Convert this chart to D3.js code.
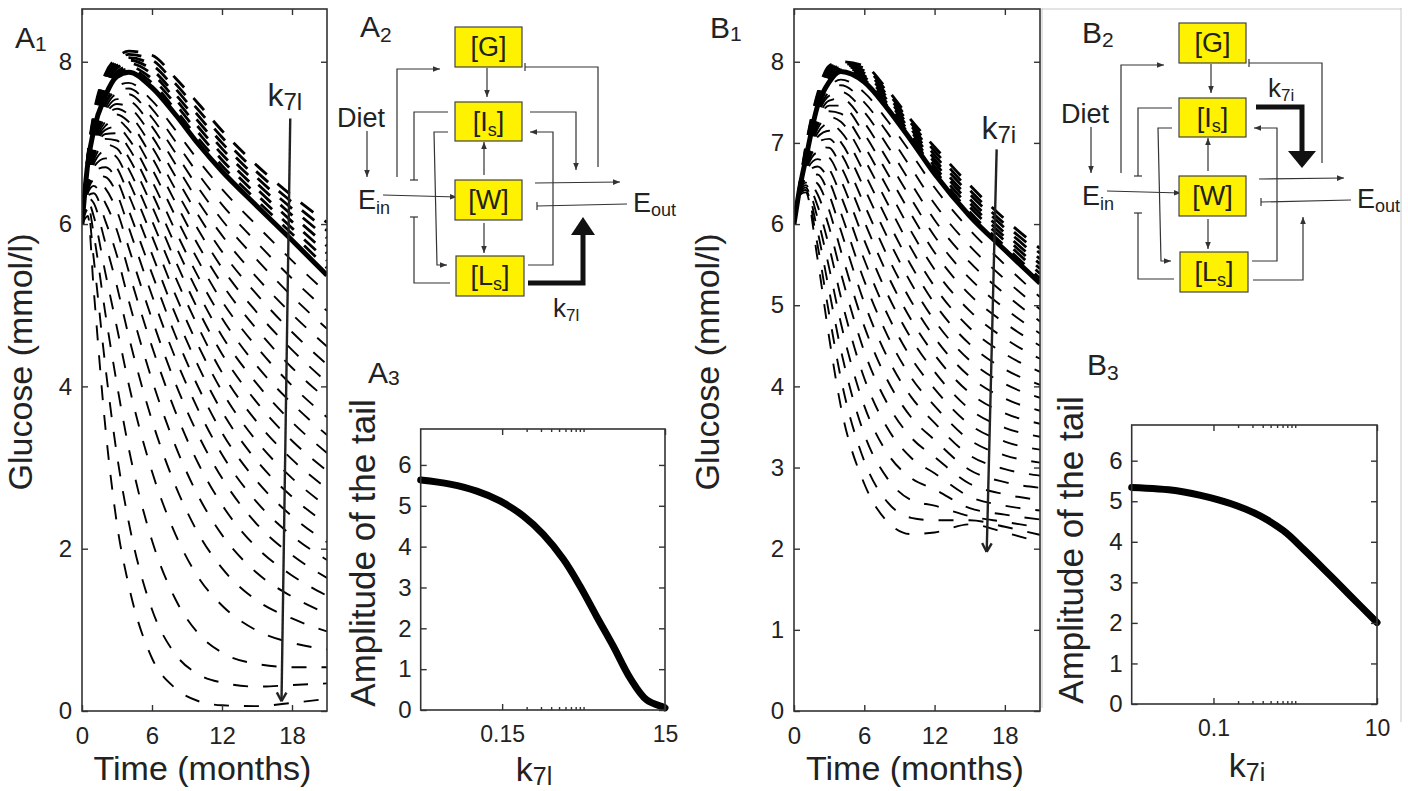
<!DOCTYPE html>
<html>
<head>
<meta charset="utf-8">
<script src="https://cdn.jsdelivr.net/npm/d3@7"></script>
<style>
  body { margin: 0; background: #fff; }
  text { font-family: "Liberation Sans", Arial, Helvetica, sans-serif; fill: #222; }
</style>
</head>
<body>
<div id="fig"></div>
<script>
// ---- data ----
const tGrid = [0, 0.5, 1, 2, 3, 4, 6, 8, 10, 12, 15, 18, 21];
const monthTicks = [0, 6, 12, 18];
const a1GluTicks = [0, 2, 4, 6, 8];
const b1GluTicks = [0, 1, 2, 3, 4, 5, 6, 7, 8];
const ampTicks = [0, 1, 2, 3, 4, 5, 6];

// A1: reference trajectory (thick) and the dashed family for varying k7l
const a1Thick = [6.0, 6.75, 7.15, 7.58, 7.82, 7.87, 7.68, 7.35, 6.98, 6.65, 6.22, 5.8, 5.37];
const a1Upper = [
  [6.0, 6.76, 7.18, 7.62, 7.85, 7.91, 7.74, 7.41, 7.05, 6.72, 6.29, 5.88, 5.46],
  [6.0, 6.78, 7.21, 7.66, 7.88, 7.94, 7.79, 7.48, 7.12, 6.79, 6.36, 5.95, 5.55],
  [6.0, 6.79, 7.23, 7.69, 7.92, 7.98, 7.85, 7.54, 7.19, 6.86, 6.43, 6.03, 5.64],
  [6.0, 6.81, 7.26, 7.73, 7.95, 8.02, 7.9, 7.6, 7.26, 6.93, 6.5, 6.11, 5.73],
  [6.0, 6.82, 7.29, 7.77, 7.98, 8.05, 7.96, 7.67, 7.33, 7.0, 6.57, 6.19, 5.83],
  [6.0, 6.83, 7.32, 7.81, 8.01, 8.09, 8.02, 7.73, 7.4, 7.07, 6.64, 6.27, 5.92],
  [6.0, 6.85, 7.35, 7.85, 8.05, 8.13, 8.08, 7.8, 7.48, 7.15, 6.72, 6.35, 6.02]
];
const a1Lower = [
  [6.0, 6.72, 7.1, 7.5, 7.7, 7.74, 7.52, 7.16, 6.78, 6.43, 5.98, 5.55, 5.15],
  [6.0, 6.7, 7.08, 7.47, 7.65, 7.67, 7.42, 7.02, 6.61, 6.24, 5.77, 5.33, 4.93],
  [6.0, 6.68, 7.05, 7.43, 7.6, 7.6, 7.31, 6.88, 6.44, 6.05, 5.56, 5.11, 4.71],
  [6.0, 6.66, 7.02, 7.39, 7.54, 7.52, 7.2, 6.74, 6.27, 5.86, 5.34, 4.89, 4.49],
  [6.0, 6.64, 7.0, 7.35, 7.48, 7.44, 7.08, 6.59, 6.1, 5.66, 5.13, 4.67, 4.27],
  [6.0, 6.62, 6.97, 7.31, 7.42, 7.35, 6.95, 6.43, 5.92, 5.46, 4.91, 4.45, 4.05],
  [6.0, 6.6, 6.94, 7.26, 7.35, 7.26, 6.82, 6.27, 5.73, 5.26, 4.7, 4.23, 3.84],
  [6.0, 6.58, 6.91, 7.21, 7.28, 7.16, 6.68, 6.1, 5.54, 5.05, 4.48, 4.01, 3.62],
  [6.0, 6.56, 6.88, 7.16, 7.2, 7.05, 6.53, 5.92, 5.34, 4.84, 4.25, 3.79, 3.4],
  [6.0, 6.54, 6.85, 7.11, 7.12, 6.94, 6.38, 5.74, 5.14, 4.62, 4.03, 3.56, 3.18],
  [6.0, 6.52, 6.82, 7.05, 7.03, 6.82, 6.22, 5.55, 4.93, 4.4, 3.8, 3.33, 2.96],
  [6.0, 6.5, 6.78, 6.98, 6.93, 6.68, 6.04, 5.35, 4.72, 4.17, 3.56, 3.1, 2.74],
  [6.0, 6.48, 6.74, 6.9, 6.82, 6.53, 5.85, 5.13, 4.49, 3.94, 3.32, 2.87, 2.52],
  [6.0, 6.46, 6.7, 6.81, 6.69, 6.36, 5.63, 4.89, 4.24, 3.69, 3.08, 2.64, 2.3],
  [6.0, 6.44, 6.65, 6.7, 6.54, 6.17, 5.39, 4.63, 3.98, 3.43, 2.83, 2.4, 2.08],
  [6.0, 6.42, 6.6, 6.58, 6.37, 5.96, 5.12, 4.35, 3.7, 3.16, 2.57, 2.16, 1.86],
  [6.0, 6.4, 6.54, 6.44, 6.16, 5.71, 4.83, 4.04, 3.39, 2.87, 2.3, 1.92, 1.64],
  [6.0, 6.38, 6.47, 6.26, 5.92, 5.42, 4.49, 3.69, 3.04, 2.54, 2.01, 1.67, 1.42],
  [6.0, 6.35, 6.38, 6.04, 5.61, 5.06, 4.08, 3.27, 2.64, 2.17, 1.7, 1.41, 1.2],
  [6.0, 6.32, 6.26, 5.77, 5.23, 4.62, 3.58, 2.78, 2.18, 1.76, 1.36, 1.14, 0.98],
  [6.0, 6.28, 6.1, 5.4, 4.72, 4.03, 2.95, 2.18, 1.64, 1.3, 0.99, 0.84, 0.76],
  [6.0, 6.24, 5.88, 4.9, 4.02, 3.24, 2.1, 1.38, 0.95, 0.72, 0.58, 0.54, 0.54],
  [6.0, 6.18, 5.58, 4.25, 3.15, 2.33, 1.25, 0.7, 0.45, 0.35, 0.3, 0.32, 0.34],
  [6.0, 6.1, 5.2, 3.5, 2.3, 1.55, 0.65, 0.28, 0.12, 0.07, 0.06, 0.1, 0.15]
];
const a1Arrow = {t0: 17.85, g0: 7.3, t1: 17.1, g1: 0.12};

// B1: same for varying k7i
const b1Thick = [6.0, 6.45, 6.8, 7.45, 7.75, 7.88, 7.75, 7.42, 7.03, 6.62, 6.1, 5.68, 5.27];
const b1Upper = [
  [6.0, 6.46, 6.82, 7.47, 7.78, 7.9, 7.78, 7.45, 7.07, 6.67, 6.15, 5.73, 5.33],
  [6.0, 6.46, 6.84, 7.49, 7.81, 7.91, 7.81, 7.48, 7.1, 6.71, 6.21, 5.79, 5.39],
  [6.0, 6.47, 6.86, 7.51, 7.83, 7.93, 7.83, 7.52, 7.14, 6.76, 6.26, 5.84, 5.45],
  [6.0, 6.48, 6.88, 7.53, 7.86, 7.95, 7.86, 7.55, 7.17, 6.8, 6.31, 5.89, 5.51],
  [6.0, 6.49, 6.9, 7.56, 7.89, 7.96, 7.89, 7.58, 7.21, 6.85, 6.37, 5.95, 5.57],
  [6.0, 6.49, 6.93, 7.58, 7.92, 7.98, 7.92, 7.62, 7.24, 6.9, 6.42, 6.0, 5.64],
  [6.0, 6.5, 6.95, 7.6, 7.95, 8.0, 7.95, 7.65, 7.28, 6.95, 6.48, 6.06, 5.7]
];
const b1Lower = [
  [6.0, 6.44, 6.78, 7.4, 7.68, 7.78, 7.62, 7.27, 6.87, 6.45, 5.93, 5.5, 5.1],
  [6.0, 6.44, 6.77, 7.36, 7.63, 7.71, 7.5, 7.12, 6.69, 6.25, 5.73, 5.32, 4.95],
  [6.0, 6.43, 6.76, 7.33, 7.58, 7.63, 7.38, 6.96, 6.5, 6.05, 5.53, 5.14, 4.8],
  [6.0, 6.43, 6.75, 7.29, 7.52, 7.55, 7.25, 6.79, 6.31, 5.85, 5.33, 4.96, 4.65],
  [6.0, 6.43, 6.74, 7.25, 7.46, 7.46, 7.11, 6.62, 6.12, 5.65, 5.13, 4.78, 4.5],
  [6.0, 6.42, 6.73, 7.21, 7.39, 7.36, 6.96, 6.44, 5.91, 5.44, 4.93, 4.59, 4.34],
  [6.0, 6.42, 6.72, 7.17, 7.32, 7.26, 6.8, 6.25, 5.7, 5.23, 4.72, 4.4, 4.18],
  [6.0, 6.42, 6.71, 7.12, 7.24, 7.14, 6.63, 6.04, 5.49, 5.02, 4.52, 4.21, 4.02],
  [6.0, 6.41, 6.7, 7.07, 7.15, 7.01, 6.44, 5.83, 5.27, 4.81, 4.32, 4.03, 3.86],
  [6.0, 6.41, 6.68, 7.01, 7.05, 6.87, 6.24, 5.6, 5.05, 4.6, 4.12, 3.85, 3.7],
  [6.0, 6.41, 6.67, 6.95, 6.94, 6.71, 6.03, 5.37, 4.82, 4.39, 3.92, 3.67, 3.54],
  [6.0, 6.4, 6.65, 6.88, 6.82, 6.54, 5.8, 5.13, 4.59, 4.18, 3.72, 3.49, 3.38],
  [6.0, 6.4, 6.63, 6.8, 6.68, 6.35, 5.56, 4.88, 4.35, 3.97, 3.53, 3.32, 3.22],
  [6.0, 6.4, 6.61, 6.71, 6.53, 6.14, 5.3, 4.62, 4.11, 3.76, 3.34, 3.15, 3.06],
  [6.0, 6.39, 6.59, 6.61, 6.36, 5.92, 5.03, 4.35, 3.87, 3.55, 3.15, 2.98, 2.9],
  [6.0, 6.39, 6.57, 6.5, 6.17, 5.67, 4.74, 4.07, 3.62, 3.34, 2.97, 2.82, 2.75],
  [6.0, 6.39, 6.54, 6.37, 5.96, 5.4, 4.43, 3.78, 3.37, 3.13, 2.8, 2.67, 2.6],
  [6.0, 6.38, 6.51, 6.23, 5.72, 5.1, 4.1, 3.48, 3.12, 2.93, 2.64, 2.53, 2.47],
  [6.0, 6.38, 6.48, 6.08, 5.46, 4.78, 3.76, 3.17, 2.87, 2.73, 2.5, 2.42, 2.36],
  [6.0, 6.37, 6.45, 5.92, 5.18, 4.45, 3.41, 2.86, 2.6, 2.53, 2.4, 2.33, 2.26],
  [6.0, 6.37, 6.42, 5.75, 4.89, 4.1, 3.08, 2.57, 2.38, 2.35, 2.35, 2.27, 2.17],
  [6.0, 6.36, 6.39, 5.58, 4.6, 3.75, 2.8, 2.33, 2.18, 2.2, 2.3, 2.2, 2.08]
];
const b1Arrow = {t0: 17.3, g0: 6.92, t1: 16.45, g1: 1.96};

// A3 / B3: tail amplitude against the rate constant (log axis)
const a3K   = [0.015, 0.0343, 0.0733, 0.141, 0.273, 0.48, 0.848, 1.36, 2.17, 3.48, 5.6, 8.9, 14.3, 15];
const a3Amp = [5.63, 5.53, 5.36, 5.12, 4.75, 4.3, 3.69, 3.03, 2.29, 1.56, 0.78, 0.25, 0.07, 0.05];
const a3KTicks = [0.15, 15];
const a3KMinor = [0.3, 0.45, 0.6, 0.75, 0.9, 1.05, 1.2, 1.35, 1.5];
const b3K   = [0.01, 0.0356, 0.091, 0.193, 0.372, 0.72, 1.26, 2.44, 4.71, 10];
const b3Amp = [5.34, 5.26, 5.09, 4.89, 4.64, 4.27, 3.82, 3.25, 2.67, 2.01];
const b3KTicks = [0.1, 10];
const b3KMinor = [0.2, 0.3, 0.4, 0.5, 0.6, 0.7, 0.8, 0.9, 1];

// ---- drawing ----
const W = 1408, H = 791;
const svg = d3.select('#fig').append('svg')
  .attr('width', W).attr('height', H)
  .style('background', '#fff');

const ink = '#222';

svg.append('defs').append('marker')
  .attr('id', 'ah').attr('viewBox', '0 0 10 10')
  .attr('refX', 10).attr('refY', 5)
  .attr('markerWidth', 7).attr('markerHeight', 7)
  .attr('markerUnits', 'userSpaceOnUse')
  .attr('orient', 'auto')
  .append('path').attr('d', 'M0,1 L10,5 L0,9 z').attr('fill', '#333');

function label(g, x, y, main, sub, size, subSize, dy, anchor) {
  const t = g.append('text').attr('x', x).attr('y', y)
    .attr('font-size', size).attr('text-anchor', anchor || 'start');
  t.append('tspan').text(main);
  if (sub) t.append('tspan').attr('font-size', subSize).attr('dy', dy).text(sub);
  return t;
}

function styleAxis(s, size) {
  s.select('.domain').remove();
  s.attr('font-family', '"Liberation Sans", Arial, sans-serif')
    .attr('font-size', size).style('color', '#333');
  s.selectAll('.tick line').attr('stroke-width', 1.4);
  s.selectAll('.tick text').attr('fill', ink);
}

function frame(g, f) {
  g.append('rect').attr('x', f.x0).attr('y', f.y0)
    .attr('width', f.x1 - f.x0).attr('height', f.y1 - f.y0)
    .attr('fill', 'none').attr('stroke', '#333').attr('stroke-width', 1.6);
}

function timePanel(f, gTicks, thick, upper, lower, arr, kSub, kPos, yLab) {
  const g = svg.append('g');
  const x = d3.scaleLinear().domain([0, 21]).range([f.x0, f.x1]);
  const y = d3.scaleLinear().domain([0, 8.65]).range([f.y1, f.y0]);
  const id = 'clip' + Math.round(f.x0);
  svg.select('defs').append('clipPath').attr('id', id)
    .append('rect').attr('x', f.x0).attr('y', f.y0)
    .attr('width', f.x1 - f.x0).attr('height', f.y1 - f.y0);

  const line = d3.line()
    .x((d, i) => x(tGrid[i]))
    .y(d => y(d))
    .curve(d3.curveMonotoneX);

  const c = g.append('g').attr('clip-path', `url(#${id})`);
  c.selectAll('path.low').data(lower).join('path').attr('class', 'low')
    .attr('d', line).attr('fill', 'none').attr('stroke', '#000')
    .attr('stroke-width', 1.9).attr('stroke-dasharray', '15,15');
  c.selectAll('path.up').data(upper).join('path').attr('class', 'up')
    .attr('d', line).attr('fill', 'none').attr('stroke', '#000')
    .attr('stroke-width', 2.8).attr('stroke-dasharray', '16,14');
  c.append('path').datum(thick).attr('d', line)
    .attr('fill', 'none').attr('stroke', '#000').attr('stroke-width', 5);

  // k arrow
  const x0 = x(arr.t0), y0 = y(arr.g0), x1 = x(arr.t1), y1 = y(arr.g1);
  g.append('line').attr('x1', x0).attr('y1', y0).attr('x2', x1).attr('y2', y1)
    .attr('stroke', '#222').attr('stroke-width', 2.4);
  const ang = Math.atan2(y1 - y0, x1 - x0);
  [-1, 1].forEach(s => {
    g.append('line').attr('x1', x1).attr('y1', y1)
      .attr('x2', x1 - 10 * Math.cos(ang + s * 0.5))
      .attr('y2', y1 - 10 * Math.sin(ang + s * 0.5))
      .attr('stroke', '#222').attr('stroke-width', 2.4);
  });
  label(g, x(kPos[0]), y(kPos[1]), 'k', kSub, 32, 24, 4);

  frame(g, f);
  g.append('g').attr('transform', `translate(0,${f.y1})`)
    .call(d3.axisBottom(x).tickValues(monthTicks).tickSizeInner(-6).tickSizeOuter(0).tickPadding(16))
    .call(s => styleAxis(s, 24));
  g.append('g').attr('transform', `translate(0,${f.y0})`)
    .call(d3.axisTop(x).tickValues(monthTicks).tickSizeInner(-6).tickSizeOuter(0).tickFormat(''))
    .call(s => styleAxis(s, 24));
  g.append('g').attr('transform', `translate(${f.x0},0)`)
    .call(d3.axisLeft(y).tickValues(gTicks).tickSizeInner(-6).tickSizeOuter(0).tickPadding(10))
    .call(s => styleAxis(s, 24));
  g.append('g').attr('transform', `translate(${f.x1},0)`)
    .call(d3.axisRight(y).tickValues(gTicks).tickSizeInner(-6).tickSizeOuter(0).tickFormat(''))
    .call(s => styleAxis(s, 24));

  g.append('text').attr('x', (f.x0 + f.x1) / 2 - 2).attr('y', 780)
    .attr('text-anchor', 'middle').attr('font-size', 34).text('Time (months)');
  g.append('text').attr('transform', `translate(${yLab},362) rotate(-90)`)
    .attr('text-anchor', 'middle').attr('font-size', 34).text('Glucose (mmol/l)');
}

function ampPanel(f, dom, kArr, ampArr, kTicks, kMinor, kSub, yLab, yLabC, xLabC, xLabY) {
  const g = svg.append('g');
  const x = d3.scaleLog().domain(dom).range([f.x0, f.x1]);
  const y = d3.scaleLinear().domain([0, 6.88]).range([f.y1, f.y0]);
  const line = d3.line().x((d, i) => x(kArr[i])).y(d => y(d))
    .curve(d3.curveCatmullRom.alpha(0.5));
  g.append('path').datum(ampArr).attr('d', line)
    .attr('fill', 'none').attr('stroke', '#000').attr('stroke-width', 7)
    .attr('stroke-linecap', 'round');

  frame(g, f);
  g.append('g').attr('transform', `translate(0,${f.y1})`)
    .call(d3.axisBottom(x).tickValues(kTicks).tickFormat(d => String(d))
      .tickSizeInner(-6).tickSizeOuter(0).tickPadding(16))
    .call(s => styleAxis(s, 23));
  [[d3.axisBottom, f.y1], [d3.axisTop, f.y0]].forEach(([ax, yy]) => {
    g.append('g').attr('transform', `translate(0,${yy})`)
      .call(ax(x).tickValues(kMinor).tickSizeInner(-3).tickSizeOuter(0).tickFormat(''))
      .call(s => styleAxis(s, 23));
  });
  g.append('g').attr('transform', `translate(0,${f.y0})`)
    .call(d3.axisTop(x).tickValues(kTicks).tickSizeInner(-6).tickSizeOuter(0).tickFormat(''))
    .call(s => styleAxis(s, 23));
  g.append('g').attr('transform', `translate(${f.x0},0)`)
    .call(d3.axisLeft(y).tickValues(ampTicks).tickFormat(d3.format('d'))
      .tickSizeInner(-6).tickSizeOuter(0).tickPadding(9))
    .call(s => styleAxis(s, 24));
  g.append('g').attr('transform', `translate(${f.x1},0)`)
    .call(d3.axisRight(y).tickValues(ampTicks).tickSizeInner(-6).tickSizeOuter(0).tickFormat(''))
    .call(s => styleAxis(s, 24));

  g.append('text').attr('transform', `translate(${yLab},${yLabC}) rotate(-90)`)
    .attr('text-anchor', 'middle').attr('font-size', 35).text('Amplitude of the tail');
  label(g, xLabC, xLabY, 'k', kSub, 34, 25, 4, 'middle');
}

// diagram layout (relative to the [G] box corner)
const boxes = [
  {name: 'G', sub: '', x: 0, y: 0, w: 67, h: 40},
  {name: 'I', sub: 's', x: 0, y: 75, w: 67, h: 39},
  {name: 'W', sub: '', x: 0, y: 153, w: 67, h: 40},
  {name: 'L', sub: 's', x: 1, y: 229, w: 68, h: 40}
];
const links = [
  {pts: [[-88, 104], [-88, 150]], end: 'arrow'},
  {pts: [[-72, 168], [2, 170]], end: 'arrow'},
  {pts: [[-58, 150], [-58, 42], [-15, 42]], end: 'arrow'},
  {pts: [[-7, 85], [-41, 85], [-41, 153]], end: 'bar'},
  {pts: [[-7, 105], [-21, 105], [-18, 238], [-8, 238]], end: 'arrow'},
  {pts: [[-5, 256], [-41, 256], [-41, 190]], end: 'bar'},
  {pts: [[32, 41], [32, 70]], end: 'arrow'},
  {pts: [[29, 148], [29, 115]], end: 'arrow'},
  {pts: [[29, 196], [29, 226]], end: 'arrow'},
  {pts: [[73, 238], [98, 238], [98, 105], [75, 105]], end: 'arrow'},
  {pts: [[143, 140], [143, 40], [70, 40]], end: 'bar'},
  {pts: [[80, 156], [165, 155]], end: 'arrow'},
  {pts: [[172, 177], [82, 179]], end: 'bar'}
];

function diagram(ox, oy, variant) {
  const g = svg.append('g').attr('transform', `translate(${ox},${oy})`);
  const extra = variant === 'A'
    ? {pts: [[75, 85], [121, 85], [121, 143]], end: 'arrow'}
    : {pts: [[74, 257], [124, 257], [124, 194]], end: 'arrow'};
  links.concat([extra]).forEach(l => {
    const p = g.append('path').attr('d', d3.line()(l.pts))
      .attr('fill', 'none').attr('stroke', '#333').attr('stroke-width', 1.2);
    if (l.end === 'arrow') p.attr('marker-end', 'url(#ah)');
    else {
      const [a, b] = l.pts.slice(-2);
      const horiz = Math.abs(b[0] - a[0]) > Math.abs(b[1] - a[1]);
      g.append('line')
        .attr('x1', horiz ? b[0] : b[0] - 4).attr('x2', horiz ? b[0] : b[0] + 4)
        .attr('y1', horiz ? b[1] - 4 : b[1]).attr('y2', horiz ? b[1] + 4 : b[1])
        .attr('stroke', '#333').attr('stroke-width', 1.2);
    }
  });
  // thick k arrow
  const thick = variant === 'A'
    ? {pts: [[73, 256], [128, 256], [128, 206]], head: [[128, 190], [116, 208], [140, 208]]}
    : {pts: [[77, 84], [123, 84], [123, 130]], head: [[123, 145], [109, 128], [137, 128]]};
  g.append('path').attr('d', d3.line()(thick.pts)).attr('fill', 'none')
    .attr('stroke', '#111').attr('stroke-width', 5).attr('stroke-linejoin', 'miter');
  g.append('path').attr('d', d3.line()(thick.head) + 'Z').attr('fill', '#111');

  boxes.forEach(b => {
    g.append('rect').attr('x', b.x).attr('y', b.y).attr('width', b.w).attr('height', b.h)
      .attr('fill', '#fff200').attr('stroke', '#444').attr('stroke-width', 1.2);
    const t = g.append('text').attr('x', b.x + b.w / 2).attr('y', b.y + b.h / 2 + 9)
      .attr('text-anchor', 'middle').attr('font-size', 27);
    t.append('tspan').text('[' + b.name);
    if (b.sub) {
      t.append('tspan').attr('font-size', 18).attr('dy', 5).text(b.sub);
      t.append('tspan').attr('dy', -5).text(']');
    } else t.append('tspan').text(']');
  });
  g.append('text').attr('x', -118).attr('y', 100).attr('font-size', 27).text('Diet');
  label(g, -97, 182, 'E', 'in', 27, 18, 5);
  label(g, 178, 185, 'E', 'out', 27, 18, 4);
  if (variant === 'A') label(g, 98, 290, 'k', '7l', 26, 17, 4);
  else label(g, 89, 74, 'k', '7i', 26, 17, 4);
}

// faint sub-figure borders
[[1042, 8, 1042, 708], [1401, 8, 1401, 722], [1042, 9, 1401, 9]].forEach(d => {
  svg.append('line').attr('x1', d[0]).attr('y1', d[1]).attr('x2', d[2]).attr('y2', d[3])
    .attr('stroke', '#c8c8c8').attr('stroke-width', 1);
});

timePanel({x0: 82, x1: 327, y0: 9, y1: 711}, a1GluTicks, a1Thick, a1Upper, a1Lower,
  a1Arrow, '7l', [15.9, 7.45], 32);
timePanel({x0: 794, x1: 1040, y0: 9, y1: 711}, b1GluTicks, b1Thick, b1Upper, b1Lower,
  b1Arrow, '7i', [16.0, 7.05], 719);

ampPanel({x0: 420.7, x1: 665, y0: 429, y1: 710}, [0.015, 15], a3K, a3Amp, a3KTicks, a3KMinor,
  '7l', 375, 553, 534, 781);
ampPanel({x0: 1131.7, x1: 1377, y0: 425, y1: 704}, [0.01, 10], b3K, b3Amp, b3KTicks, b3KMinor,
  '7i', 1083, 550, 1247, 777);

diagram(455, 27, 'A');
diagram(1179, 23, 'B');

// panel letters
label(svg, 15, 48, 'A', '1', 30, 21, 3);
label(svg, 360, 37, 'A', '2', 30, 21, 5);
label(svg, 368, 383, 'A', '3', 30, 21, 2);
label(svg, 710, 38, 'B', '1', 30, 21, 3);
label(svg, 1082, 43, 'B', '2', 30, 21, 4);
label(svg, 1087, 375, 'B', '3', 30, 21, 5);
</script>
</body>
</html>
